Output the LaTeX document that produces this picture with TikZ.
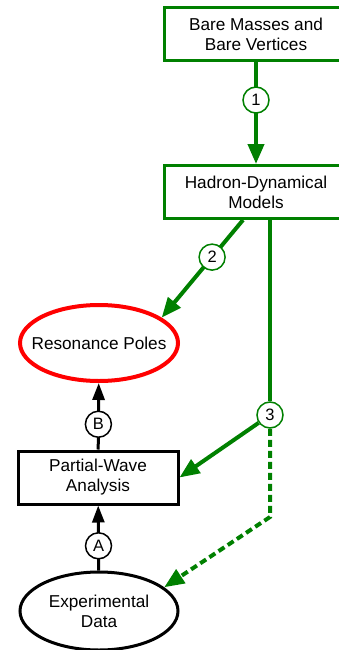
\documentclass[tikz,border=0pt]{standalone}
\usepackage{fontspec}
\setmainfont{Liberation Sans}
\usetikzlibrary{arrows.meta,shapes.geometric,calc}

\definecolor{dgreen}{RGB}{0,128,0}

\begin{document}
\begin{tikzpicture}[x=1pt,y=-1pt,
        every node/.style={font=\fontsize{17.2}{20}\selectfont, align=center},
        gbox/.style={draw=dgreen, line width=3pt, fill=white, minimum width=184pt, minimum height=53pt},
        kbox/.style={draw=black, line width=3pt, minimum width=160pt, minimum height=53pt},
        oval/.style={ellipse, line width=3pt, minimum width=158pt, minimum height=78pt},
        gnum/.style={circle, draw=dgreen, line width=1.5pt, fill=white, inner sep=0pt, minimum size=26pt, font=\fontsize{16.5}{18}\selectfont},
        knum/.style={gnum, draw=black},
        garrow/.style={draw=dgreen, line width=4pt, -{Triangle[length=20pt,width=16pt]}},
        karrow/.style={draw=black, line width=3pt, -{Triangle[length=17pt,width=12pt]}}]
    \useasboundingbox (0,0) rectangle (338,650);

    % boxes and ovals
    \node[gbox] (bare) at (256,34.5) {Bare Masses and\\Bare Vertices};
    \node[gbox] (hadron) at (256,192) {Hadron-Dynamical\\Models};
    \node[oval, draw=red, line width=4pt, minimum height=76pt, inner xsep=-16pt] (poles) at (99,343) {Resonance Poles};
    \node[kbox] (pwa) at (98,477.5) {Partial-Wave\\Analysis};
    \node[oval, draw=black] (data) at (99,611) {Experimental\\Data};

    % green connectors
    \draw[garrow] (bare) -- node[gnum, pos=0.37] (c1) {1} (hadron);
    \coordinate (h2) at ($(hadron.south)+(-13,0)$);
    \coordinate (h3) at ($(hadron.south)+(14,0)$);
    \draw[garrow] (h2) -- node[gnum, pos=0.38] (c2) {2} (poles.22);
    \node[gnum] (c3) at (270,415) {3};
    \draw[dgreen, line width=4pt] (h3) -- (c3);
    \draw[garrow] (c3) -- (pwa.east);
    \coordinate (kink) at (270,517);
    \draw[garrow, dash pattern=on 7pt off 4pt] (c3) -- (kink) -- (data.20);

    % black connectors
    \draw[karrow] (pwa) -- node[knum, pos=0.38] (cB) {B} (poles);
    \draw[karrow] (data) -- node[knum, pos=0.38] (cA) {A} (pwa);
\end{tikzpicture}
\end{document}
